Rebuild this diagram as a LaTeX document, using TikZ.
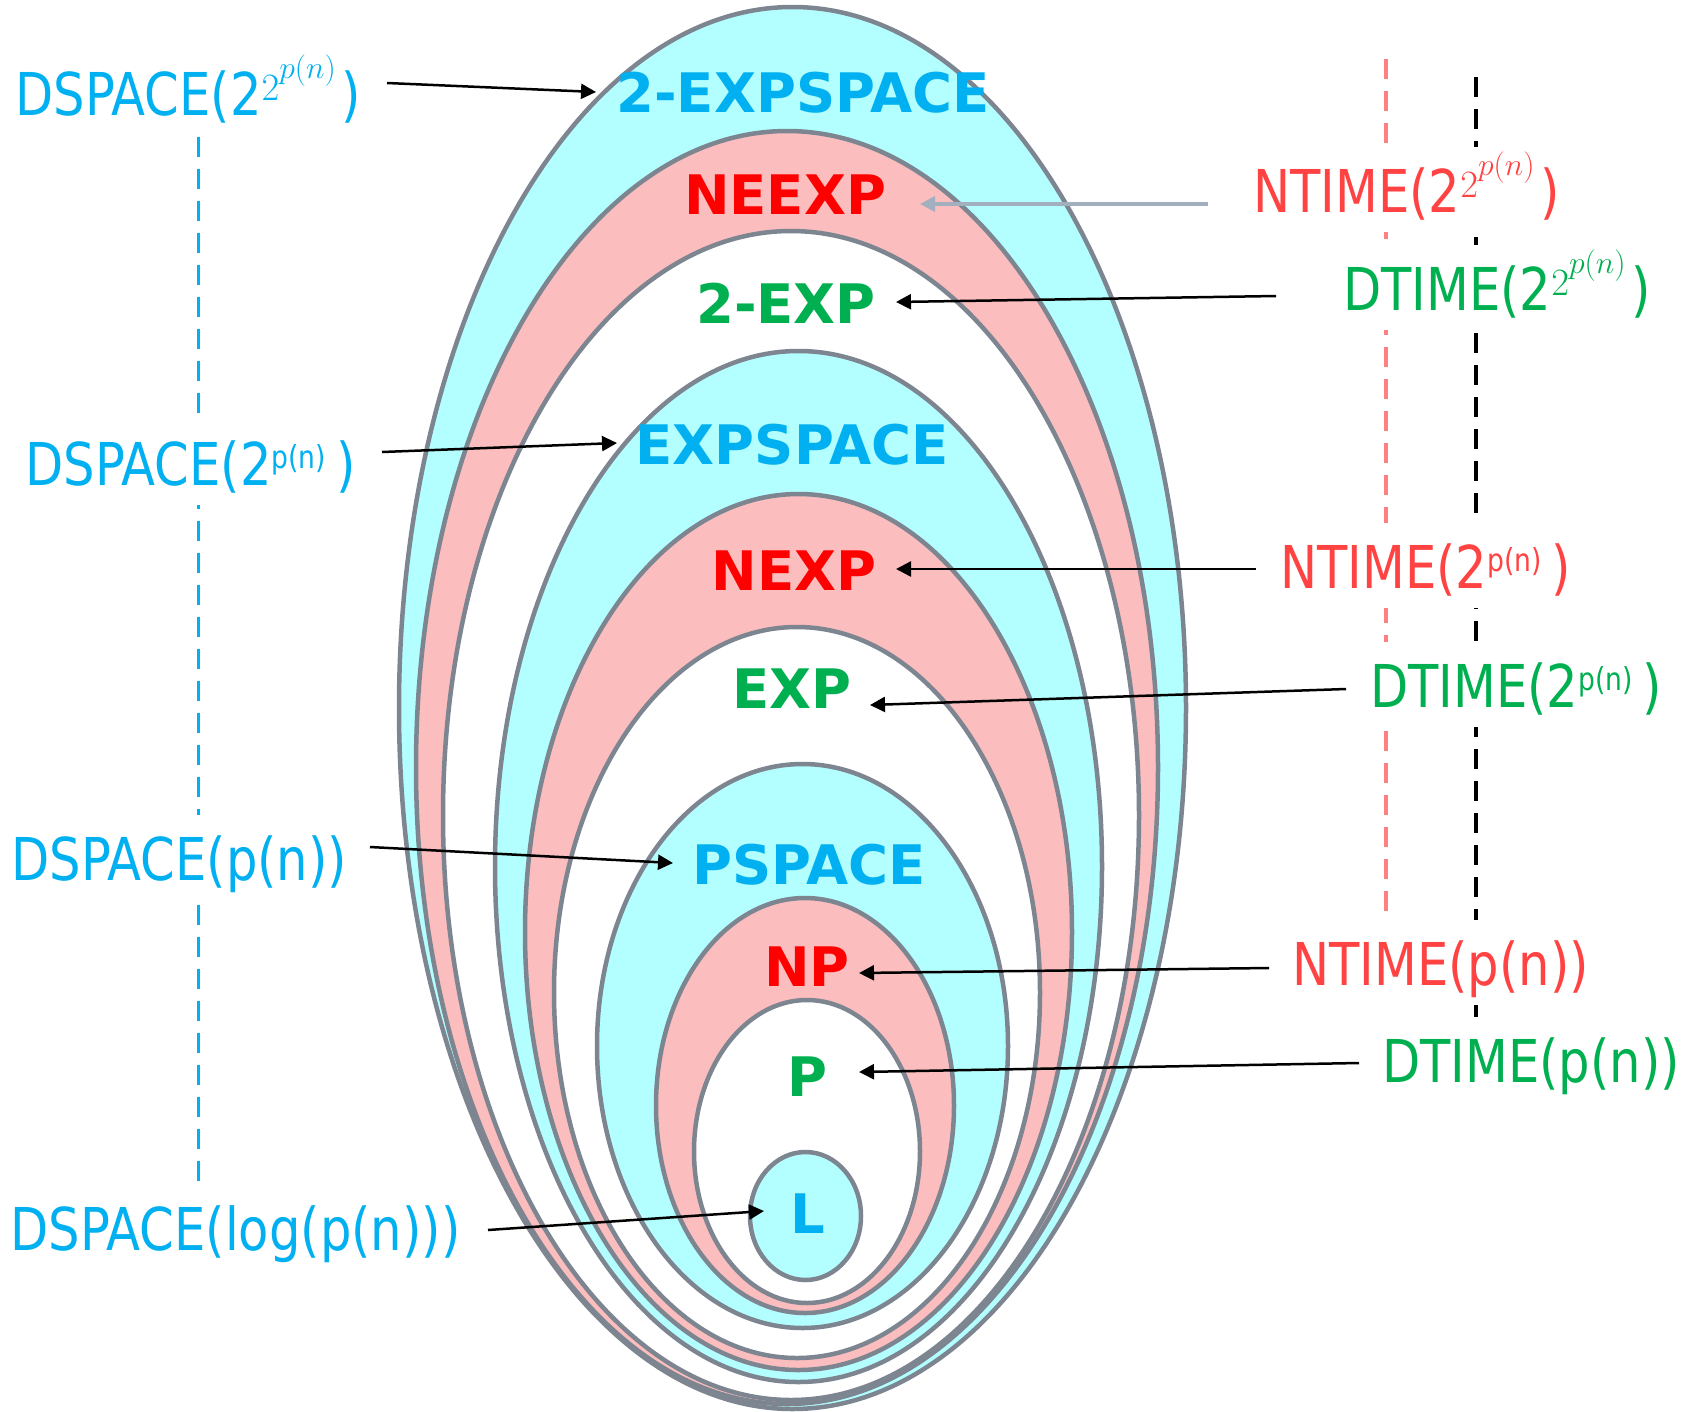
\documentclass[tikz,border=0pt]{standalone}
\usepackage{fix-cm}
\usepackage{fontspec}
\newfontfamily\lblfont{DejaVu Sans}[FakeStretch=0.84]
\newfontfamily\clsfont{DejaVu Sans}
\usetikzlibrary{arrows.meta, calc}

\definecolor{spacefill}{HTML}{B3FFFF}
\definecolor{ntimefill}{HTML}{FBBDBD}
\definecolor{rim}{HTML}{7C8590}
\definecolor{spaceblue}{HTML}{00B0F0}
\definecolor{ntimered}{HTML}{FF0000}
\definecolor{dtimegreen}{HTML}{00B050}
\definecolor{ntimelight}{HTML}{FF4343}
\definecolor{dashpink}{HTML}{FF8080}
\definecolor{arrowgray}{HTML}{A2AFBE}

% exponents used in the bound labels
\newcommand\twopn{2\raisebox{0.34cm}{\fontsize{18}{18}\selectfont p(n)}\kern0.2cm}
\newcommand\twotwopn{2\raisebox{0.3cm}{\fontsize{22}{22}\selectfont$2$\raisebox{0.44cm}{\fontsize{18}{18}\selectfont$p(n)$}}\kern0.12cm}

\tikzset{
  cls/.style={draw=rim, line width=0.09cm},
  clsname/.style={font=\clsfont\bfseries\fontsize{31}{31}\selectfont, inner sep=0pt},
  bound/.style={font=\lblfont\fontsize{33.6}{40}\selectfont, fill=white, anchor=base west,
    inner sep=0pt, text height=1.3cm, text depth=0.4cm},
  arr/.style={line width=0.05cm, -{Triangle[length=0.3cm, width=0.3cm]}},
  sep/.style={line width=0.06cm, dash pattern=on 0.4cm off 0.24cm}
}

\begin{document}
\begin{tikzpicture}[x=0.02cm, y=-0.02cm]
\useasboundingbox (0,0) rectangle (1681,1411);
%% dashed separators
  \draw[sep, spaceblue] (198,137) -- (198,1190);
  \draw[sep, dashpink, line width=0.08cm] (1386,59) -- (1386,917);
  \draw[sep, black, line width=0.07cm] (1476,77) -- (1476,1018);
%% nested classes, outermost first
  \draw[cls, fill=spacefill] (792.5,708) ellipse [x radius=393.5, y radius=701];
  \draw[cls, fill=ntimefill] (787,767.5) ellipse [x radius=371, y radius=636.5];
  \draw[cls, fill=white] (791,815.5) ellipse [x radius=348, y radius=584.5];
  \draw[cls, fill=spacefill] (798.5,866.5) ellipse [x radius=303.5, y radius=515.5];
  \draw[cls, fill=ntimefill] (798.5,932) ellipse [x radius=273.5, y radius=438];
  \draw[cls, fill=white] (797,992.5) ellipse [x radius=243, y radius=365.5];
  \draw[cls, fill=spacefill] (802.5,1046) ellipse [x radius=205.5, y radius=282];
  \draw[cls, fill=ntimefill] (805,1105.5) ellipse [x radius=149, y radius=207.5];
  \draw[cls, fill=white] (807,1151.5) ellipse [x radius=113, y radius=151.5];
  \draw[cls, fill=spacefill] (805.5,1216) ellipse [x radius=55.5, y radius=64];
%% class names
  \node[clsname, text=spaceblue] (twoexpspace) at (803,93) {2-EXPSPACE};
  \node[clsname, text=ntimered] (neexp) at (785,195) {NEEXP};
  \node[clsname, text=dtimegreen] (twoexp) at (786,303) {2-EXP};
  \node[clsname, text=spaceblue] (expspace) at (792,445) {EXPSPACE};
  \node[clsname, text=ntimered] (nexp) at (794,571) {NEXP};
  \node[clsname, text=dtimegreen] (exptime) at (792,689) {EXP};
  \node[clsname, text=spaceblue] (pspace) at (809,865) {PSPACE};
  \node[clsname, text=ntimered] (np) at (807,967) {NP};
  \node[clsname, text=dtimegreen] (ptime) at (807,1077) {P};
  \node[clsname, text=spaceblue] (logspace) at (808,1214) {L};
%% space bounds on the left
  \node[bound, text=spaceblue] (dsA) at (15,115) {DSPACE(\twotwopn)};
  \node[bound, text=spaceblue] (dsB) at (25,485) {DSPACE(\twopn)};
  \node[bound, text=spaceblue] (dsC) at (11,880) {DSPACE(p(n))};
  \node[bound, text=spaceblue] (dsD) at (10,1250) {DSPACE(log(p(n)))};
%% time bounds on the right
  \node[bound, text=ntimelight] (ntA) at (1253,212) {NTIME(\twotwopn)};
  \node[bound, text=dtimegreen] (dtA) at (1343,310) {DTIME(\twotwopn)};
  \node[bound, text=ntimelight] (ntB) at (1280,588) {NTIME(\twopn)};
  \node[bound, text=dtimegreen] (dtB) at (1370,707) {DTIME(\twopn)};
  \node[bound, text=ntimelight] (ntC) at (1292,985) {NTIME(p(n))};
  \node[bound, text=dtimegreen] (dtC) at (1382,1082) {DTIME(p(n))};
%% arrows
  \draw[arr] ($(dsA.base west)+(372,-32)$) -- ($(twoexpspace.center)+(-207,-1)$);
  \draw[arr, arrowgray, line width=0.07cm] ($(ntA.base west)+(-45,-8)$) -- ($(neexp.center)+(135,9)$);
  \draw[arr] ($(dtA.base west)+(-67,-14)$) -- ($(twoexp.center)+(110,-1)$);
  \draw[arr] ($(dsB.base west)+(357,-33)$) -- ($(expspace.center)+(-175,-2)$);
  \draw[arr] ($(ntB.base west)+(-24,-19)$) -- ($(nexp.center)+(102,-2)$);
  \draw[arr] ($(dtB.base west)+(-24,-18)$) -- ($(exptime.center)+(78,16)$);
  \draw[arr] ($(dsC.base west)+(359,-33)$) -- ($(pspace.center)+(-136,-2)$);
  \draw[arr] ($(ntC.base west)+(-23,-17)$) -- ($(np.center)+(52,6)$);
  \draw[arr] ($(dtC.base west)+(-23,-19)$) -- ($(ptime.center)+(52,-5)$);
  \draw[arr] ($(dsD.base west)+(478,-20)$) -- ($(logspace.center)+(-44,-3)$);
\end{tikzpicture}
\end{document}
